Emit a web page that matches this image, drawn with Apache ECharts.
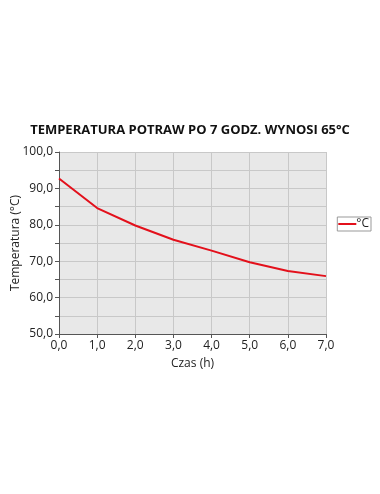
<!DOCTYPE html>
<html><head><meta charset="utf-8">
<script src="https://cdn.jsdelivr.net/npm/echarts@6/dist/echarts.min.js"></script>
<style>html,body{margin:0;padding:0;background:#fff}#c{width:380px;height:494px}</style>
</head><body><div id="c"></div>
<script>
const categories = [0, 1, 2, 3, 4, 5, 6, 7];
const temperature = [92.7, 84.6, 79.8, 75.9, 72.9, 69.7, 67.3, 65.9];
const yTicks = [50, 60, 70, 80, 90, 100];
const seriesName = '°C';
const fmt = v => v.toFixed(1).replace('.', ',');
const chart = echarts.init(document.getElementById('c'));
const font = 'Open Sans';
chart.setOption({
  animation: false,
  title: {
    text: 'TEMPERATURA POTRAW PO 7 GODZ. WYNOSI 65°C',
    left: 'center', top: 119,
    textStyle: {fontFamily: font, fontWeight: 'bold', fontSize: 13, color: '#111'}
  },
  legend: {
    data: [seriesName], right: 9, top: 217, orient: 'vertical',
    borderColor: '#999', borderWidth: 1, padding: [1, 2, 1, 1],
    itemWidth: 18, itemHeight: 2, itemGap: 0,
    icon: 'rect',
    textStyle: {fontFamily: font, fontSize: 12, color: '#222', padding: [0, 0, 0, -5]}
  },
  grid: {left: 59, right: 54, top: 152, bottom: 160, backgroundColor: '#e8e8e8', show: true, borderWidth: 0, outerBoundsMode: 'none', containLabel: false},
  xAxis: {
    type: 'value', min: 0, max: 7, interval: 1,
    name: 'Czas (h)', nameLocation: 'middle', nameGap: 24, nameMoveOverlap: false,
    nameTextStyle: {fontFamily: font, fontSize: 12, color: '#222'},
    axisLine: {lineStyle: {color: '#555'}},
    axisTick: {show: true, length: 4, lineStyle: {color: '#555'}},
    axisLabel: {fontFamily: font, fontSize: 12, color: '#222', formatter: fmt, margin: 6},
    splitLine: {show: true, lineStyle: {color: '#c8c8c8'}}
  },
  yAxis: {
    type: 'value', min: 50, max: 100, interval: 10,
    name: 'Temperatura (°C)', nameLocation: 'middle', nameGap: 37, nameMoveOverlap: false,
    nameTextStyle: {fontFamily: font, fontSize: 12, color: '#222'},
    axisLine: {show: true, lineStyle: {color: '#555'}},
    axisTick: {show: true, length: 4, lineStyle: {color: '#555'}},
    minorTick: {show: true, splitNumber: 2, length: 4, lineStyle: {color: '#555'}},
    minorSplitLine: {show: true, lineStyle: {color: '#c8c8c8'}},
    axisLabel: {fontFamily: font, fontSize: 12, color: '#222', formatter: fmt, margin: 6},
    splitLine: {show: true, lineStyle: {color: '#c8c8c8'}}
  },
  series: [{
    name: seriesName, type: 'line', showSymbol: false,
    data: categories.map((c, i) => [c, temperature[i]]),
    lineStyle: {color: '#e3101b', width: 2}, itemStyle: {color: '#e3101b'}
  }]
});
</script></body></html>
